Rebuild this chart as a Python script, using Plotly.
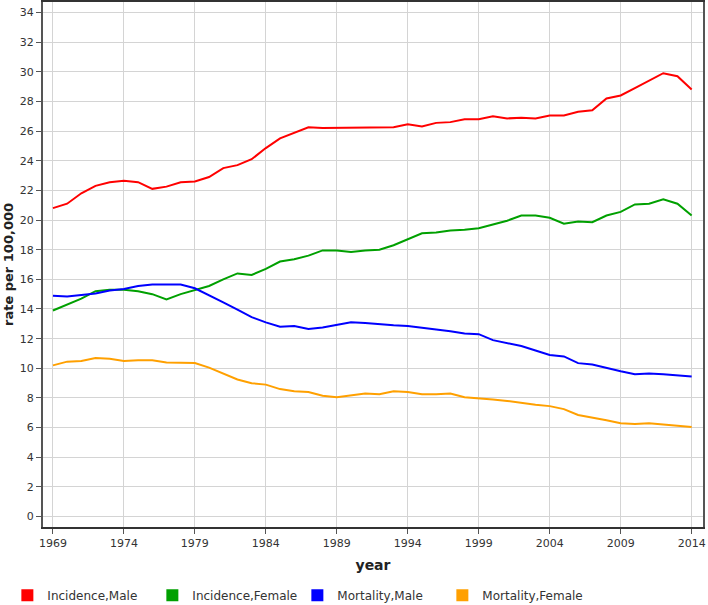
import plotly.graph_objects as go

years = list(range(1969, 2015))

incidence_male = [20.8, 21.1, 21.8, 22.3, 22.55, 22.65, 22.55, 22.1, 22.25, 22.55,
                  22.6, 22.9, 23.5, 23.7, 24.1, 24.85, 25.5, 25.85, 26.25, 26.2,
                  26.2, 26.25, 26.25, 26.2, 26.25, 26.45, 26.3, 26.55, 26.6, 26.8,
                  26.8, 27.0, 26.85, 26.9, 26.85, 27.05, 27.05, 27.3, 27.4, 28.2,
                  28.4, 28.9, 29.4, 29.9, 29.7, 28.8]
incidence_female = [13.9, 14.3, 14.7, 15.2, 15.3, 15.3, 15.2, 15.0, 14.65, 15.0,
                    15.3, 15.55, 16.0, 16.4, 16.3, 16.7, 17.2, 17.35, 17.6, 17.95,
                    17.95, 17.85, 17.95, 18.0, 18.3, 18.7, 19.1, 19.15, 19.3, 19.35,
                    19.45, 19.7, 19.95, 20.3, 20.3, 20.15, 19.75, 19.9, 19.85, 20.3,
                    20.55, 21.05, 21.1, 21.4, 21.1, 20.3]
mortality_male = [14.9, 14.85, 14.95, 15.05, 15.25, 15.35, 15.55, 15.65, 15.65, 15.65,
                  15.4, 14.95, 14.45, 13.95, 13.45, 13.1, 12.8, 12.85, 12.65, 12.75,
                  12.9, 13.1, 13.05, 13.0, 12.9, 12.85, 12.75, 12.6, 12.5, 12.35,
                  12.3, 11.9, 11.7, 11.5, 11.2, 10.9, 10.8, 10.35, 10.25, 10.0,
                  9.8, 9.6, 9.65, 9.6, 9.55, 9.45]
mortality_female = [10.2, 10.45, 10.5, 10.7, 10.65, 10.5, 10.55, 10.55, 10.4, 10.4,
                    10.35, 10.05, 9.65, 9.25, 9.0, 8.9, 8.6, 8.45, 8.4, 8.15,
                    8.05, 8.15, 8.3, 8.25, 8.45, 8.4, 8.25, 8.25, 8.3, 8.05,
                    7.95, 7.9, 7.8, 7.65, 7.55, 7.45, 7.25, 6.85, 6.7, 6.5,
                    6.3, 6.25, 6.3, 6.2, 6.15, 6.05]

series = [
    ('Incidence,Male', incidence_male, '#ff0000'),
    ('Incidence,Female', incidence_female, '#00a000'),
    ('Mortality,Male', mortality_male, '#0000ff'),
    ('Mortality,Female', mortality_female, '#ffa000'),
]

x_ticks = list(range(1969, 2015, 5))
y_ticks = list(range(0, 35, 2))

font = 'DejaVu Sans'
fig = go.Figure()
for name, vals, color in series:
    fig.add_trace(go.Scatter(x=years, y=vals, mode='lines', name=name,
                             line=dict(color=color, width=2), showlegend=False))
# legend entries drawn as coloured squares
for name, vals, color in series:
    fig.add_trace(go.Scatter(x=[None], y=[None], mode='markers', name=name,
                             marker=dict(color=color, symbol='square', size=15)))

fig.update_layout(
    width=708, height=605,
    margin=dict(l=43, r=5, t=2, b=78, autoexpand=False),
    plot_bgcolor='white', paper_bgcolor='white',
    font=dict(family=font, size=11, color='#333333'),
    xaxis=dict(
        range=[1968.3, 2014.8], tickvals=x_ticks, automargin=False,
        title=dict(text='<b>year</b>', font=dict(size=14, color='#222222'), standoff=11),
        showgrid=True, gridcolor='#d4d4d4', gridwidth=1,
        showline=True, linecolor='#333333', linewidth=1.5, mirror=True,
        ticks='outside', ticklen=5, tickcolor='#555555', zeroline=False,
    ),
    yaxis=dict(
        range=[-0.7, 34.7], tickvals=y_ticks, automargin=False,
        title=dict(text='<b>rate per 100,000</b>', font=dict(size=13, color='#222222'), standoff=3),
        showgrid=True, gridcolor='#d4d4d4', gridwidth=1,
        showline=True, linecolor='#555555', linewidth=2, mirror=True,
        ticks='outside', ticklen=5, tickcolor='#555555', zeroline=False,
    ),
    legend=dict(orientation='h', x=-0.054, xanchor='left', y=-0.13, yanchor='middle',
                entrywidth=100, entrywidthmode='pixels', itemwidth=30,
                font=dict(size=12, color='#333333'), itemsizing='constant'),
)

# page has no body margin so the figure fills the window exactly
fig.write_html('out.html', config={'displayModeBar': False},
               post_script="document.body.style.margin='0';")
